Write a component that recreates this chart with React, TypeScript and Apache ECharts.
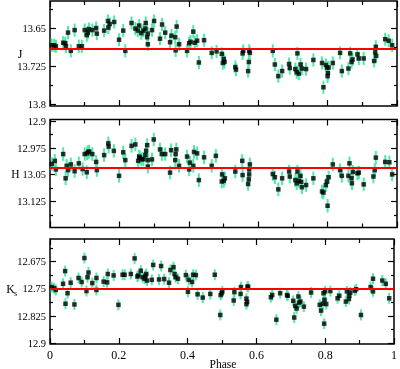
import React, { useEffect, useRef } from 'react';
import * as echarts from 'echarts';

const phaseJ = [0.005,0.012,0.017,0.038,0.044,0.046,0.052,0.060,0.071,0.083,0.092,0.100,0.106,0.109,0.112,0.122,0.133,0.135,0.156,0.167,0.168,0.172,0.185,0.199,0.211,0.217,0.235,0.246,0.253,0.257,0.263,0.269,0.275,0.276,0.280,0.282,0.282,0.294,0.300,0.317,0.323,0.332,0.346,0.350,0.361,0.362,0.365,0.372,0.395,0.401,0.405,0.413,0.417,0.424,0.429,0.444,0.466,0.480,0.495,0.498,0.501,0.503,0.534,0.536,0.555,0.557,0.571,0.573,0.574,0.576,0.642,0.648,0.658,0.669,0.689,0.691,0.707,0.711,0.713,0.717,0.722,0.726,0.738,0.759,0.784,0.788,0.795,0.798,0.800,0.801,0.803,0.815,0.836,0.841,0.860,0.865,0.869,0.872,0.886,0.890,0.904,0.934,0.937,0.939,0.940,0.966,0.976,0.986];
const magJ = [13.683,13.683,13.685,13.678,13.679,13.685,13.658,13.694,13.653,13.685,
13.685,13.653,13.663,13.658,13.651,13.653,13.649,13.660,13.654,13.635,
13.648,13.641,13.637,13.672,13.654,13.694,13.639,13.650,13.654,13.644,
13.659,13.654,13.650,13.639,13.667,13.660,13.681,13.653,13.635,13.670,
13.642,13.658,13.677,13.664,13.667,13.693,13.646,13.681,13.694,13.679,
13.676,13.656,13.678,13.674,13.717,13.673,13.698,13.695,13.700,13.718,
13.710,13.716,13.726,13.731,13.699,13.694,13.734,13.716,13.694,13.698,
13.694,13.721,13.744,13.734,13.720,13.728,13.730,13.736,13.699,13.739,
13.721,13.729,13.730,13.712,13.718,13.766,13.722,13.727,13.744,13.738,
13.727,13.718,13.698,13.734,13.729,13.699,13.716,13.711,13.701,13.709,
13.709,13.714,13.697,13.686,13.704,13.671,13.674,13.683];

const phaseH = [0.005,0.014,0.017,0.038,0.045,0.048,0.052,0.060,0.071,0.083,0.094,0.100,0.106,0.107,0.110,0.113,0.122,0.133,0.135,0.156,0.168,0.169,0.184,0.199,0.211,0.217,0.235,0.246,0.254,0.257,0.259,0.264,0.269,0.275,0.277,0.280,0.282,0.282,0.294,0.299,0.317,0.323,0.332,0.346,0.349,0.361,0.362,0.364,0.372,0.395,0.401,0.403,0.413,0.415,0.424,0.429,
0.444,0.466,0.478,0.496,0.495,0.501,0.504,0.534,0.554,0.555,0.571,0.573,0.574,0.574,0.576,0.642,0.648,0.658,0.669,0.689,0.691,0.707,0.713,0.711,0.717,0.722,0.726,0.738,0.724,0.759,0.784,0.788,0.795,0.798,0.800,0.803,0.815,0.836,0.841,0.860,0.863,0.869,0.870,0.873,0.886,0.890,0.904,0.932,0.936,0.939,0.966,0.978,0.986];
const magH = [13.020,13.011,13.035,12.992,13.060,13.025,13.037,13.021,13.040,13.018,13.034,12.992,13.043,12.990,12.986,12.985,12.992,13.014,13.037,12.995,12.962,12.971,12.983,13.053,12.987,13.009,12.969,12.965,13.011,12.999,13.002,13.007,13.006,12.995,12.983,12.967,13.027,13.009,13.007,12.951,12.979,12.992,12.992,13.044,12.981,13.009,12.992,12.979,13.025,12.999,13.035,13.016,13.025,12.986,12.990,13.065,
13.001,13.025,12.997,13.049,13.069,13.067,13.060,13.041,13.011,13.051,13.076,13.063,13.049,13.035,13.021,13.048,13.057,13.091,13.060,13.041,13.055,13.065,13.041,13.074,13.067,13.053,13.085,13.079,13.070,13.060,13.097,13.100,13.079,13.069,13.137,13.057,13.021,13.037,13.053,13.053,13.018,13.060,13.074,13.042,13.046,13.044,13.077,13.055,13.037,13.002,13.014,13.015,13.049];

const phaseK = [0.005,0.012,0.017,0.038,0.044,0.045,0.051,0.060,0.071,0.083,0.092,0.100,0.106,0.109,0.112,0.123,0.135,0.135,0.156,0.166,0.168,0.185,0.199,0.211,0.217,0.235,0.246,0.254,0.257,0.264,0.269,0.275,0.277,0.280,0.282,0.296,0.300,0.317,0.323,0.332,0.346,0.350,0.359,0.362,0.365,0.372,0.395,0.401,0.403,0.413,0.416,0.424,0.429,
0.444,0.466,0.479,0.495,0.496,0.499,0.501,0.534,0.536,0.554,0.555,0.571,0.571,0.573,0.574,0.576,0.642,0.646,0.658,0.669,0.689,0.691,0.707,0.710,0.713,0.717,0.722,0.724,0.728,0.738,0.759,0.784,0.788,0.793,0.795,0.797,0.798,0.800,0.803,0.815,0.836,0.841,0.860,0.863,0.869,0.870,0.873,0.886,0.890,0.904,0.932,0.939,0.939,0.966,0.976,0.986];
const magK = [12.745,12.748,12.753,12.736,12.701,12.791,12.762,12.733,12.793,12.720,12.731,12.665,12.756,12.718,12.705,12.734,12.720,12.753,12.730,12.732,12.709,12.713,12.794,12.711,12.711,12.709,12.666,12.716,12.713,12.700,12.718,12.722,12.714,12.709,12.727,12.725,12.684,12.724,12.687,12.723,12.733,12.698,12.690,12.709,12.718,12.722,12.712,12.758,12.725,12.731,12.711,12.712,12.765,
12.774,12.764,12.711,12.822,12.767,12.762,12.757,12.782,12.759,12.764,12.745,12.792,12.777,12.786,12.744,12.744,12.773,12.767,12.835,12.762,12.767,12.769,12.783,12.829,12.797,12.804,12.771,12.788,12.785,12.799,12.760,12.794,12.810,12.791,12.762,12.846,12.780,12.757,12.792,12.756,12.776,12.769,12.785,12.757,12.778,12.769,12.760,12.755,12.751,12.822,12.745,12.757,12.722,12.727,12.736,12.776];

const meanMag = [13.688, 13.029, 12.752];
const errMag = [0.013, 0.019, 0.015];
const yMin = [13.5955, 12.895, 12.6125];
const yMax = [13.803, 13.198, 12.902];
const majorTicks = [[13.65, 13.725, 13.8], [12.9, 12.975, 13.05, 13.125], [12.675, 12.75, 12.825, 12.9]];
const minorTicks = [[13.6125, 13.6875, 13.7625], [12.9375, 13.0125, 13.0875, 13.1625], [12.6375, 12.7125, 12.7875, 12.8625]];
const xMin = 0;
const xMax = 1;
const xInterval = 0.2;
const xLabel = 'Phase';

const FONT = '"Liberation Serif", "DejaVu Serif", serif';
const ERR_COLOR = '#4deaa8';

export default function App() {
  const ref = useRef<HTMLDivElement>(null);
  useEffect(() => {
    if (!ref.current) return;
    const chart = echarts.init(ref.current, undefined, { renderer: 'svg' });
    const phases = [phaseJ, phaseH, phaseK];
    const mags = [magJ, magH, magK];
    const gridPos = [
      { top: 1, height: 105 },
      { top: 119.5, height: 108 },
      { top: 239, height: 105 },
    ];
    const grids = gridPos.map((g) => ({
      left: 50, right: 3, top: g.top, height: g.height,
      show: true, borderColor: '#000', borderWidth: 1.5, backgroundColor: 'transparent',
    }));
    const xAxes: any[] = [];
    const yAxes: any[] = [];
    const series: any[] = [];
    for (let i = 0; i < 3; i++) {
      const xBase = {
        type: 'value', gridIndex: i, min: xMin, max: xMax, interval: xInterval,
        axisLine: { show: false }, splitLine: { show: false },
        axisTick: { show: true, inside: true, length: 6, lineStyle: { color: '#000', width: 1.2 } },
        minorTick: { show: true, splitNumber: 2, length: 4, lineStyle: { color: '#000', width: 1.2 } },
        minorSplitLine: { show: false },
      };
      xAxes.push({
        ...xBase, position: 'bottom',
        axisLabel: { show: i === 2, color: '#000', fontSize: 12, fontFamily: FONT, margin: 5 },
      });
      xAxes.push({ ...xBase, position: 'top', axisLabel: { show: false } });
      const yBase = {
        type: 'value', gridIndex: i, inverse: true, min: yMin[i], max: yMax[i],
        axisLine: { show: false }, splitLine: { show: false },
      };
      for (const pos of ['left', 'right']) {
        yAxes.push({
          ...yBase, position: pos,
          axisTick: { show: true, inside: true, length: 6, customValues: majorTicks[i], lineStyle: { color: '#000', width: 1.2 } },
          axisLabel: pos === 'left'
            ? { show: true, customValues: majorTicks[i], color: '#000', fontSize: 10.5, fontFamily: FONT, margin: 4, formatter: (v: number) => String(v) }
            : { show: false },
        });
        yAxes.push({
          ...yBase, position: pos,
          axisTick: { show: true, inside: true, length: 3, customValues: minorTicks[i], lineStyle: { color: '#000', width: 1.2 } },
          axisLabel: { show: false },
        });
      }
      const err = errMag[i];
      series.push({
        type: 'custom', xAxisIndex: 2 * i, yAxisIndex: 4 * i,
        data: phases[i].map((p, k) => [p, mags[i][k], err]),
        encode: { x: 0, y: 1 },
        renderItem: (params: any, api: any) => {
          const x = api.value(0), y = api.value(1), e = api.value(2);
          const a = api.coord([x, y - e]);
          const b = api.coord([x, y + e]);
          return { type: 'line', shape: { x1: a[0], y1: a[1], x2: b[0], y2: b[1] }, style: { stroke: ERR_COLOR, lineWidth: 2 } };
        },
        silent: true,
        z: 1,
      });
      series.push({
        type: 'scatter', xAxisIndex: 2 * i, yAxisIndex: 4 * i,
        data: phases[i].map((p, k) => [p, mags[i][k]]),
        symbol: 'rect', symbolSize: 4.5,
        itemStyle: { color: '#000' },
        z: 3,
        markLine: {
          silent: true, symbol: ['none', 'none'], label: { show: false },
          lineStyle: { color: '#ff0000', width: 2, type: 'solid' },
          data: [{ yAxis: meanMag[i] }],
        },
      });
    }
    chart.setOption({
      animation: false,
      textStyle: { fontFamily: FONT },
      grid: grids,
      xAxis: xAxes,
      yAxis: yAxes,
      series,
      graphic: [
        { type: 'text', x: 20, y: 54, style: { text: 'J', fontSize: 12, fontFamily: FONT, fill: '#000', align: 'center', verticalAlign: 'middle' } },
        { type: 'text', x: 15.5, y: 173.5, style: { text: 'H', fontSize: 11.5, fontFamily: FONT, fill: '#000', align: 'center', verticalAlign: 'middle' } },
        { type: 'text', x: 10.5, y: 289, style: { text: 'K', fontSize: 12, fontFamily: FONT, fill: '#000', align: 'center', verticalAlign: 'middle' } },
        { type: 'text', x: 15.5, y: 293, style: { text: 's', fontSize: 8, fontFamily: FONT, fill: '#000', align: 'center', verticalAlign: 'middle' } },
        { type: 'text', x: 223, y: 364, style: { text: xLabel, fontSize: 11.5, fontFamily: FONT, fill: '#000', align: 'center', verticalAlign: 'middle' } },
      ],
    });
    return () => chart.dispose();
  }, []);
  return <div ref={ref} style={{ position: 'fixed', left: 0, top: 0, width: 400, height: 369 }} />;
}
